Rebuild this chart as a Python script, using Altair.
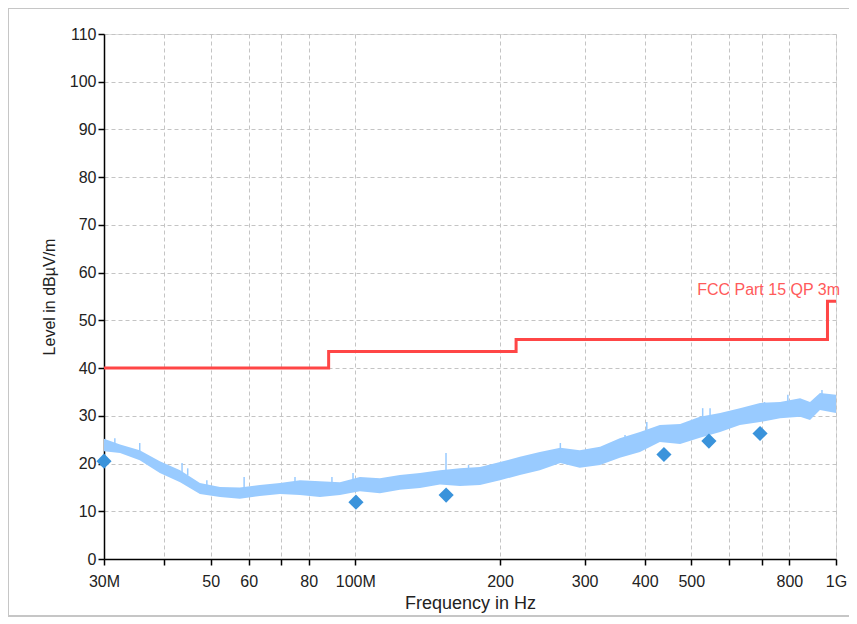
import altair as alt
import pandas as pd

# ---- data ----
# measured trace envelope (frequency in MHz, level in dBuV/m)
trace_freq = [30, 32.4, 35.6, 39.2, 43.2, 47.5, 52.3, 57.5, 63.3, 69.7, 76.7, 84.4, 92.9,
              102.2, 112.5, 123.8, 136.3, 150, 165.1, 181.7, 200, 220, 242, 267, 293, 323,
              355, 391, 430, 474, 521, 574, 631, 695, 765, 842, 883, 926, 1000]
trace_upper = [25.2, 24.0, 22.8, 20.5, 18.6, 15.9, 15.1, 15.0, 15.5, 15.9, 16.5, 16.3, 16.1,
               17.2, 16.9, 17.6, 18.0, 18.6, 19.0, 19.3, 20.3, 21.4, 22.4, 23.3, 22.8, 23.5,
               25.3, 26.6, 28.1, 28.3, 29.8, 30.6, 31.6, 32.7, 32.9, 33.7, 32.9, 34.8, 34.4]
trace_lower = [22.6, 22.2, 20.7, 18.0, 16.1, 13.6, 13.0, 12.6, 13.2, 13.6, 13.4, 13.0, 13.4,
               14.2, 13.8, 14.5, 14.9, 15.6, 15.3, 15.5, 16.5, 17.6, 18.6, 20.1, 19.1, 19.7,
               21.2, 22.4, 24.5, 24.1, 25.4, 26.6, 28.1, 28.7, 29.5, 29.8, 29.1, 31.2, 30.6]

# visible spikes of the trace
spike_freq = [31.6, 35.6, 43.6, 44.8, 49.1, 58.7, 74.9, 89.4, 98.9, 154.4, 172, 267, 364,
              404, 528, 547, 710, 794, 935]
spike_top = [25.3, 24.3, 20.1, 19.0, 16.5, 17.2, 17.2, 17.2, 18.0, 22.2, 19.7, 24.3, 26.0,
             28.7, 31.6, 31.6, 32.9, 34.4, 35.4]
spike_base = [23.8, 22.5, 18.0, 17.5, 15.0, 14.8, 16.0, 15.8, 16.5, 18.5, 18.5, 22.5, 24.5,
              26.5, 29.5, 29.5, 32.0, 32.5, 33.5]

# final quasi-peak measurements
qp_freq = [30.0, 100.3, 154.5, 438.6, 544, 695]
qp_level = [20.5, 11.9, 13.4, 21.9, 24.7, 26.3]

# limit line (step)
limit_freq = [30, 88, 216, 960, 1000]
limit_level = [40, 43.5, 46, 54, 54]
limit_name = "FCC Part 15 QP 3m"

x_ticks = [30, 40, 50, 60, 70, 80, 100, 200, 300, 400, 500, 600, 700, 800, 1000]
y_ticks = list(range(0, 111, 5))

W, H = 732, 525
FONT = "Liberation Sans"

trace_df = pd.DataFrame({"f": trace_freq, "hi": trace_upper, "lo": trace_lower})
spike_df = pd.DataFrame({"f": spike_freq, "top": spike_top, "base": spike_base})
qp_df = pd.DataFrame({"f": qp_freq, "v": qp_level})
lim_df = pd.DataFrame({"f": limit_freq, "v": limit_level})
lab_df = pd.DataFrame({"f": [limit_freq[-1]], "v": [limit_level[-1]], "t": [limit_name]})
one = pd.DataFrame({"a": [0]})

label_expr = ("datum.value == 30 ? '30M' : datum.value == 100 ? '100M' : datum.value == 1000 ? '1G' : "
              "(datum.value == 40 || datum.value == 70 || datum.value == 600 || datum.value == 700) ? '' : "
              "format(datum.value, 'd')")

xscale = alt.Scale(type="log", domain=[30, 1000], nice=False)
yscale = alt.Scale(domain=[0, 110], nice=False)

xaxis = alt.Axis(values=x_ticks, labelExpr=label_expr, title="Frequency in Hz",
                 grid=True, gridDash=[4, 3], gridColor="#c4c4c4", gridWidth=1,
                 domainColor="#000", domainWidth=1.5, tickColor="#000", tickSize=6, tickWidth=1.5,
                 labelPadding=8, labelFontSize=16, labelColor="#222", labelFont=FONT,
                 titleFont=FONT, titleFontSize=18, titleFontWeight="normal",
                 titleColor="#222", titlePadding=5, labelFlush=False, labelOverlap=False)
yaxis = alt.Axis(values=y_ticks, labelExpr="datum.value % 10 == 0 ? datum.label : ''",
                 title="Level in dBµV/m",
                 grid=True, gridDash=[4, 3], gridColor="#c4c4c4", gridWidth=1,
                 domainColor="#000", domainWidth=1.5, tickColor="#000", tickSize=6, tickWidth=1.5,
                 labelPadding=2, labelFontSize=16, labelColor="#222", labelFont=FONT,
                 titleFont=FONT, titleFontSize=16, titleFontWeight="normal",
                 titleColor="#222", titlePadding=12, labelFlush=False, labelOverlap=False)

base_x = alt.X("f:Q", scale=xscale, axis=xaxis)

area = alt.Chart(trace_df).mark_area(color="#99cbff", opacity=1).encode(
    x=base_x, y=alt.Y("hi:Q", scale=yscale, axis=yaxis), y2="lo:Q")

spikes = alt.Chart(spike_df).mark_rule(color="#99cbff", strokeWidth=1.5).encode(
    x="f:Q", y="top:Q", y2="base:Q")

limit = alt.Chart(lim_df).mark_line(color="#ff4646", strokeWidth=3, interpolate="step-after").encode(
    x="f:Q", y="v:Q")

label = alt.Chart(lab_df).mark_text(color="#ff5a5a", align="right", baseline="bottom",
                                    dx=4, dy=-3, fontSize=16, font=FONT).encode(
    x="f:Q", y="v:Q", text="t:N")

points = alt.Chart(qp_df).mark_point(shape="diamond", filled=True, size=230, color="#3a93db",
                                     opacity=1).encode(x="f:Q", y="v:Q")

frame_style = dict(color="#c6c6c6", strokeWidth=2)
frame_top = alt.Chart(one).mark_rule(**frame_style).encode(
    x=alt.value(-96), x2=alt.value(W + 13), y=alt.value(-26))
frame_left = alt.Chart(one).mark_rule(**frame_style).encode(
    x=alt.value(-96), y=alt.value(-26), y2=alt.value(H + 58))
frame_bottom = alt.Chart(one).mark_rule(**frame_style).encode(
    x=alt.value(-96), x2=alt.value(W + 13), y=alt.value(H + 57))

chart = alt.layer(frame_top, frame_left, frame_bottom, area, spikes, limit, label, points).properties(
    width=W, height=H,
    padding={"left": 96, "top": 26, "right": 13, "bottom": 58},
    autosize=alt.AutoSizeParams(type="none"),
).configure_view(stroke=None).configure(background="white")

chart.save("out.html", embed_options={"renderer": "svg", "actions": False})
